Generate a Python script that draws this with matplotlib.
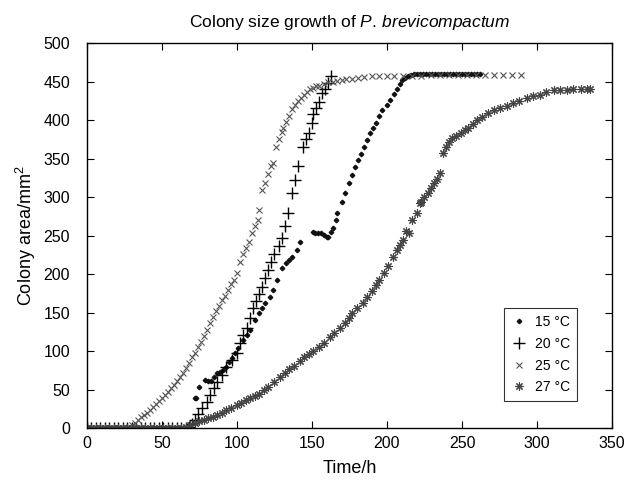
import numpy as np
import matplotlib
matplotlib.use("Agg")
import matplotlib.pyplot as plt

plt.rcParams['font.family'] = ['Liberation Sans', 'DejaVu Sans']
plt.rcParams['mathtext.fontset'] = 'custom'
plt.rcParams['mathtext.rm'] = 'Liberation Sans'
plt.rcParams['mathtext.it'] = 'Liberation Sans:italic'

# 15 C  (time in h, colony area in mm2)
t15 = [0, 3, 6, 9, 12, 15, 18, 21, 24, 27, 30, 33, 36, 39, 42, 45, 48, 51, 54, 57,
       60, 63, 66, 69, 72, 73, 75, 79, 81, 83, 85, 87, 89, 91, 93, 95, 97, 99, 101,
       104, 107, 109, 112, 115, 117, 119, 122, 124, 127, 130, 133, 135, 137, 140,
       142, 151, 152, 154, 156, 158, 160, 161, 163, 164, 166, 167, 170, 172, 175,
       177, 179, 181, 183, 185, 187, 189, 191, 193, 195, 197, 200, 202, 205, 207,
       209, 210, 212, 214, 216, 218, 220, 222, 224, 226, 228, 230, 232, 234, 236,
       238, 240, 242, 244, 246, 248, 250, 252, 254, 256, 258, 260, 262]
a15 = [0, 0, 0, 0, 0, 0, 0, 0, 0, 0, 0, 0, 0, 0, 0, 0, 0, 0, 0, 0,
       0, 0, 0, 0, 39, 39, 54, 62, 61, 61, 66, 71, 73, 75, 79, 86, 91, 98, 104,
       114, 121, 127, 140, 150, 156, 162, 170, 179, 193, 208, 214, 218, 222, 232,
       242, 255, 254, 253, 253, 251, 248, 248, 255, 260, 270, 279, 294, 305, 318,
       329, 339, 348, 356, 365, 374, 383, 390, 397, 405, 413, 420, 426, 434, 441,
       447, 452, 455, 457, 459, 460, 460, 460, 460, 460, 460, 460, 460, 460, 460,
       460, 460, 460, 460, 460, 460, 460, 460, 460, 460, 460, 460, 460]

# 20 C
t20 = [0, 3, 6, 9, 12, 15, 18, 21, 24, 27, 30, 33, 36, 39, 42, 45, 48, 51, 54, 57,
       60, 63, 66, 68, 70, 72, 74, 77, 80, 82, 85, 87, 90, 93, 97, 100, 102, 104,
       107, 109, 111, 113, 115, 117, 119, 121, 123, 125, 128, 130, 132, 134, 137,
       139, 141, 144, 146, 148, 150, 151, 153, 155, 157, 159, 161, 163]
a20 = [0, 0, 0, 0, 0, 0, 0, 0, 0, 0, 0, 0, 0, 0, 0, 0, 0, 0, 0, 0,
       0, 0, 0, 2, 5, 10, 19, 26, 34, 43, 52, 60, 69, 79, 88, 97, 110, 121,
       130, 143, 156, 165, 174, 183, 195, 205, 216, 226, 237, 247, 262, 279, 306,
       322, 341, 365, 375, 384, 396, 408, 416, 424, 435, 441, 448, 458]

# 25 C
t25 = [0, 2, 4, 6, 8, 10, 12, 14, 16, 18, 20, 22, 24, 26, 28, 30, 32, 34, 36, 38,
       40, 42, 44, 46, 48, 50, 52, 54, 56, 58, 60, 62, 64, 66, 68, 70, 72, 74, 76,
       78, 80, 82, 84, 86, 88, 90, 92, 94, 96, 98, 100, 102, 104, 106, 108, 110,
       112, 114, 115, 117, 119, 121, 123, 124, 126, 128, 130, 131, 133, 135, 137,
       139, 141, 143, 145, 147, 149, 151, 153, 155, 158, 161, 164, 167, 170, 173,
       177, 181, 185, 190, 195, 200, 205, 211, 217, 223, 229, 235, 241, 247, 253,
       259, 265, 271, 277, 283, 289]
a25 = [0, 0, 0, 0, 0, 0, 0, 0, 0, 0, 0, 0, 0, 0, 1, 4, 7, 11, 14, 17,
       20, 24, 27, 31, 35, 39, 43, 47, 52, 56, 61, 66, 72, 78, 85, 92, 98, 105, 112,
       120, 128, 136, 145, 152, 159, 166, 172, 180, 187, 193, 202, 216, 226, 234, 242, 253,
       262, 271, 284, 309, 318, 330, 340, 344, 365, 375, 385, 390, 398, 406, 415,
       420, 425, 429, 433, 437, 440, 442, 444, 445, 447, 449, 450, 451, 452, 453,
       454, 455, 456, 457, 457, 458, 458, 458, 458, 458, 459, 459, 459, 459, 459,
       459, 459, 459, 459, 459, 459]

# 27 C
t27 = [0, 3, 6, 9, 12, 15, 18, 21, 24, 27, 30, 33, 36, 39, 42, 45, 48, 51, 54, 57,
       60, 63, 66, 69, 72, 75, 78, 81, 84, 87, 90, 93, 96, 100, 103, 106, 109, 112,
       115, 118, 121, 125, 129, 132, 135, 138, 142, 145, 148, 151, 155, 158, 162,
       165, 169, 172, 175, 177, 180, 184, 187, 190, 193, 195, 198, 201, 204, 207,
       209, 211, 213, 215, 217, 220, 222, 223, 225, 227, 229, 231, 233, 235, 237,
       239, 241, 243, 246, 249, 252, 254, 257, 260, 263, 267, 271, 275, 280, 284,
       288, 293, 297, 302, 306, 311, 315, 320, 324, 329, 333, 335]
a27 = [0, 0, 0, 0, 0, 0, 0, 0, 0, 0, 0, 0, 0, 0, 0, 0, 0, 0, 0, 0,
       0, 0, 1, 4, 7, 9, 11, 13, 14, 17, 20, 23, 26, 30, 33, 36, 39, 42,
       45, 49, 54, 60, 66, 72, 77, 81, 87, 92, 96, 100, 105, 111, 118,
       124, 130, 136, 143, 149, 156, 163, 170, 178, 186, 192, 201, 211, 222, 231,
       238, 244, 256, 253, 270, 279, 292, 294, 300, 305, 312, 318, 324, 332, 358,
       365, 372, 377, 380, 383, 387, 390, 395, 400, 404, 409, 413, 416, 419, 422,
       425, 429, 431, 433, 436, 439, 439, 439, 440, 441, 441, 440]

fig = plt.figure(figsize=(6.24, 4.8), dpi=100)
ax = fig.add_axes([0.139, 0.108, 0.842, 0.802])

ax.plot(t15, a15, linestyle='none', marker='D', markersize=2.3, color='#111111', label='15 °C')
ax.plot(t20, a20, linestyle='none', marker='+', markersize=8, markeredgewidth=1.0, color='black', label='20 °C')
ax.plot(t25, a25, linestyle='none', marker='x', markersize=4.2, markeredgewidth=0.8, color='#555555', label='25 °C')
ax.plot(t27, a27, linestyle='none', marker=(8, 2, 0), markersize=6, markeredgewidth=0.8, color='#444444', label='27 °C')

ax.set_xlim(0, 350)
ax.set_ylim(0, 500)
ax.set_xticks(np.arange(0, 351, 50))
ax.set_yticks(np.arange(0, 501, 50))
ax.tick_params(direction='in', top=True, right=True, length=5, labelsize=11.5, width=0.8)
ax.tick_params(axis='y', pad=12)
ax.tick_params(axis='x', pad=6)
for s in ax.spines.values():
   s.set_linewidth(1.0)

ax.set_xlabel('Time/h', fontsize=13, labelpad=6)
ax.set_ylabel('Colony area/mm$^2$', fontsize=13)
ax.set_title(r'Colony size growth of $\it{P.\,brevicompactum}$', fontsize=12.5, pad=12)

leg = ax.legend(loc='lower right', bbox_to_anchor=(0.946, 0.052), fontsize=10, frameon=True,
                fancybox=False, edgecolor='black', handlelength=1.2, handletextpad=0.5,
                borderpad=0.5, labelspacing=0.55)
leg.get_frame().set_linewidth(0.8)

fig.savefig('out.png', dpi=100)
